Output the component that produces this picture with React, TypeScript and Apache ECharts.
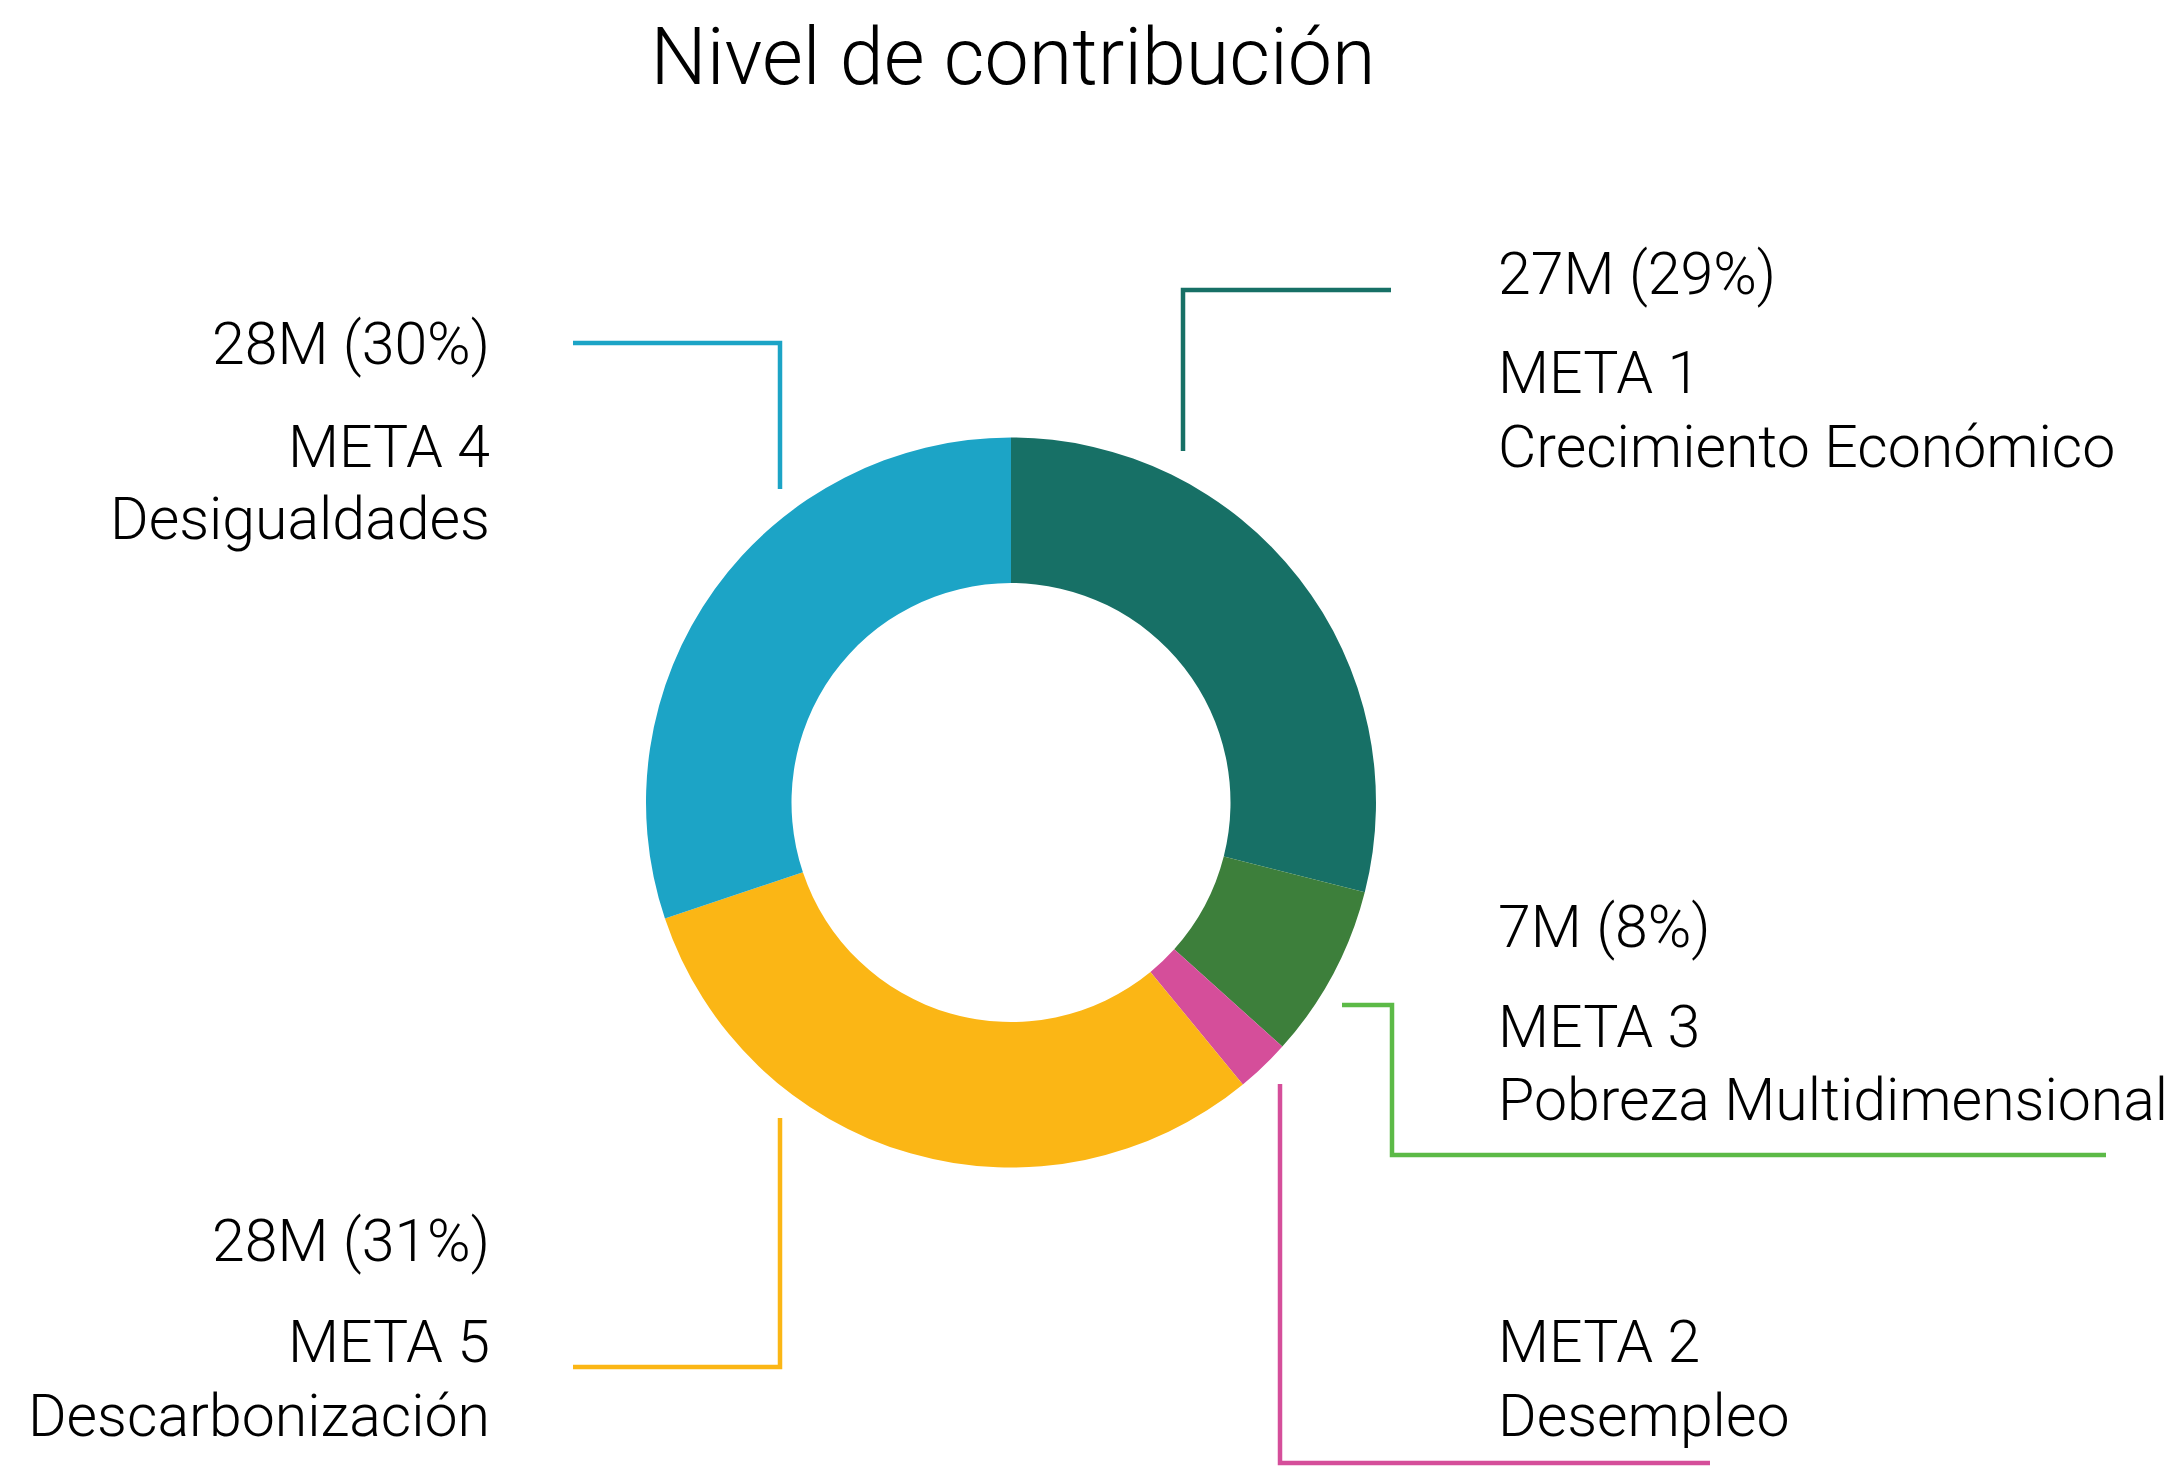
import React, { useEffect, useRef } from "react";
import * as echarts from "echarts";

// ---- Data ----
const titleText = "Nivel de contribución";
const categories = ["META 1", "META 3", "META 2", "META 5", "META 4"];
const descriptions = [
  "Crecimiento Económico",
  "Pobreza Multidimensional",
  "Desempleo",
  "Descarbonización",
  "Desigualdades",
];
const valuesM = [26.7, 7.1, 2.2, 28.4, 27.8]; // millions
const showValueLabel = [true, true, false, true, true];

// ---- Styles / layout ----
const sliceColors = ["#177066", "#3D7F3B", "#D54E9A", "#FBB615", "#1CA4C6"];
const lineColors = ["#177066", "#5CBA47", "#D54E9A", "#FBB615", "#1CA4C6"];
const FONT = "Roboto, 'Noto Sans', sans-serif";
const CX = 1011;
const CY = 802.5;
const R_OUT = 365;
const R_IN = 219.5;

// label layout per category (same order as categories)
const labelLayout = [
  { side: "right", x: 1498, yValue: 273.5, yName: 372, yDesc: 446,
    line: [[1183, 451], [1183, 290], [1391, 290]] },
  { side: "right", x: 1498, yValue: 926, yName: 1026, yDesc: 1099,
    line: [[1342, 1005], [1392, 1005], [1392, 1155], [2106, 1155]] },
  { side: "right", x: 1498, yValue: 0, yName: 1341, yDesc: 1415,
    line: [[1280, 1084], [1280, 1463], [1710, 1463]] },
  { side: "left", x: 490, yValue: 1240, yName: 1341, yDesc: 1415,
    line: [[780, 1118], [780, 1367], [573, 1367]] },
  { side: "left", x: 490, yValue: 343, yName: 446, yDesc: 518,
    line: [[780, 489], [780, 343], [573, 343]] },
];

export default function App() {
  const ref = useRef<HTMLDivElement>(null);

  useEffect(() => {
    if (!ref.current) return;
    const chart = echarts.init(ref.current, null, { renderer: "svg" });
    const total = valuesM.reduce((a, b) => a + b, 0);

    const graphics: any[] = [];
    categories.forEach((cat, i) => {
      const L = labelLayout[i];
      const align = L.side === "right" ? "left" : "right";
      graphics.push({
        type: "polyline",
        shape: { points: L.line },
        style: { stroke: lineColors[i], lineWidth: 4.5, fill: null, lineJoin: "miter" },
        silent: true,
      });
      const textStyle = (text: string, y: number) => ({
        type: "text",
        x: L.x,
        y,
        style: {
          text,
          fill: "#000",
          font: `300 59px ${FONT}`,
          textAlign: align,
          textVerticalAlign: "middle",
        },
        silent: true,
      });
      if (showValueLabel[i]) {
        const v = valuesM[i];
        const pct = Math.round((v / total) * 100);
        graphics.push(textStyle(`${Math.round(v)}M (${pct}%)`, L.yValue));
      }
      graphics.push(textStyle(cat, L.yName));
      graphics.push(textStyle(descriptions[i], L.yDesc));
    });

    chart.setOption({
      animation: false,
      backgroundColor: "#ffffff",
      title: {
        text: titleText,
        left: 1008,
        top: 12,
        textAlign: "center",
        textStyle: {
          fontFamily: FONT,
          fontWeight: 300,
          fontSize: 79,
          color: "#000",
        },
      },
      series: [
        {
          type: "pie",
          center: [CX, CY],
          radius: [R_IN, R_OUT],
          startAngle: 90,
          clockwise: true,
          label: { show: false },
          labelLine: { show: false },
          itemStyle: { borderWidth: 0 },
          emphasis: { disabled: true },
          data: categories.map((c, i) => ({
            name: c,
            value: valuesM[i],
            itemStyle: { color: sliceColors[i] },
          })),
        },
      ],
      graphic: graphics,
    });

    return () => chart.dispose();
  }, []);

  return (
    <div
      ref={ref}
      style={{ position: "fixed", left: 0, top: 0, width: 2177, height: 1469, background: "#fff" }}
    />
  );
}
